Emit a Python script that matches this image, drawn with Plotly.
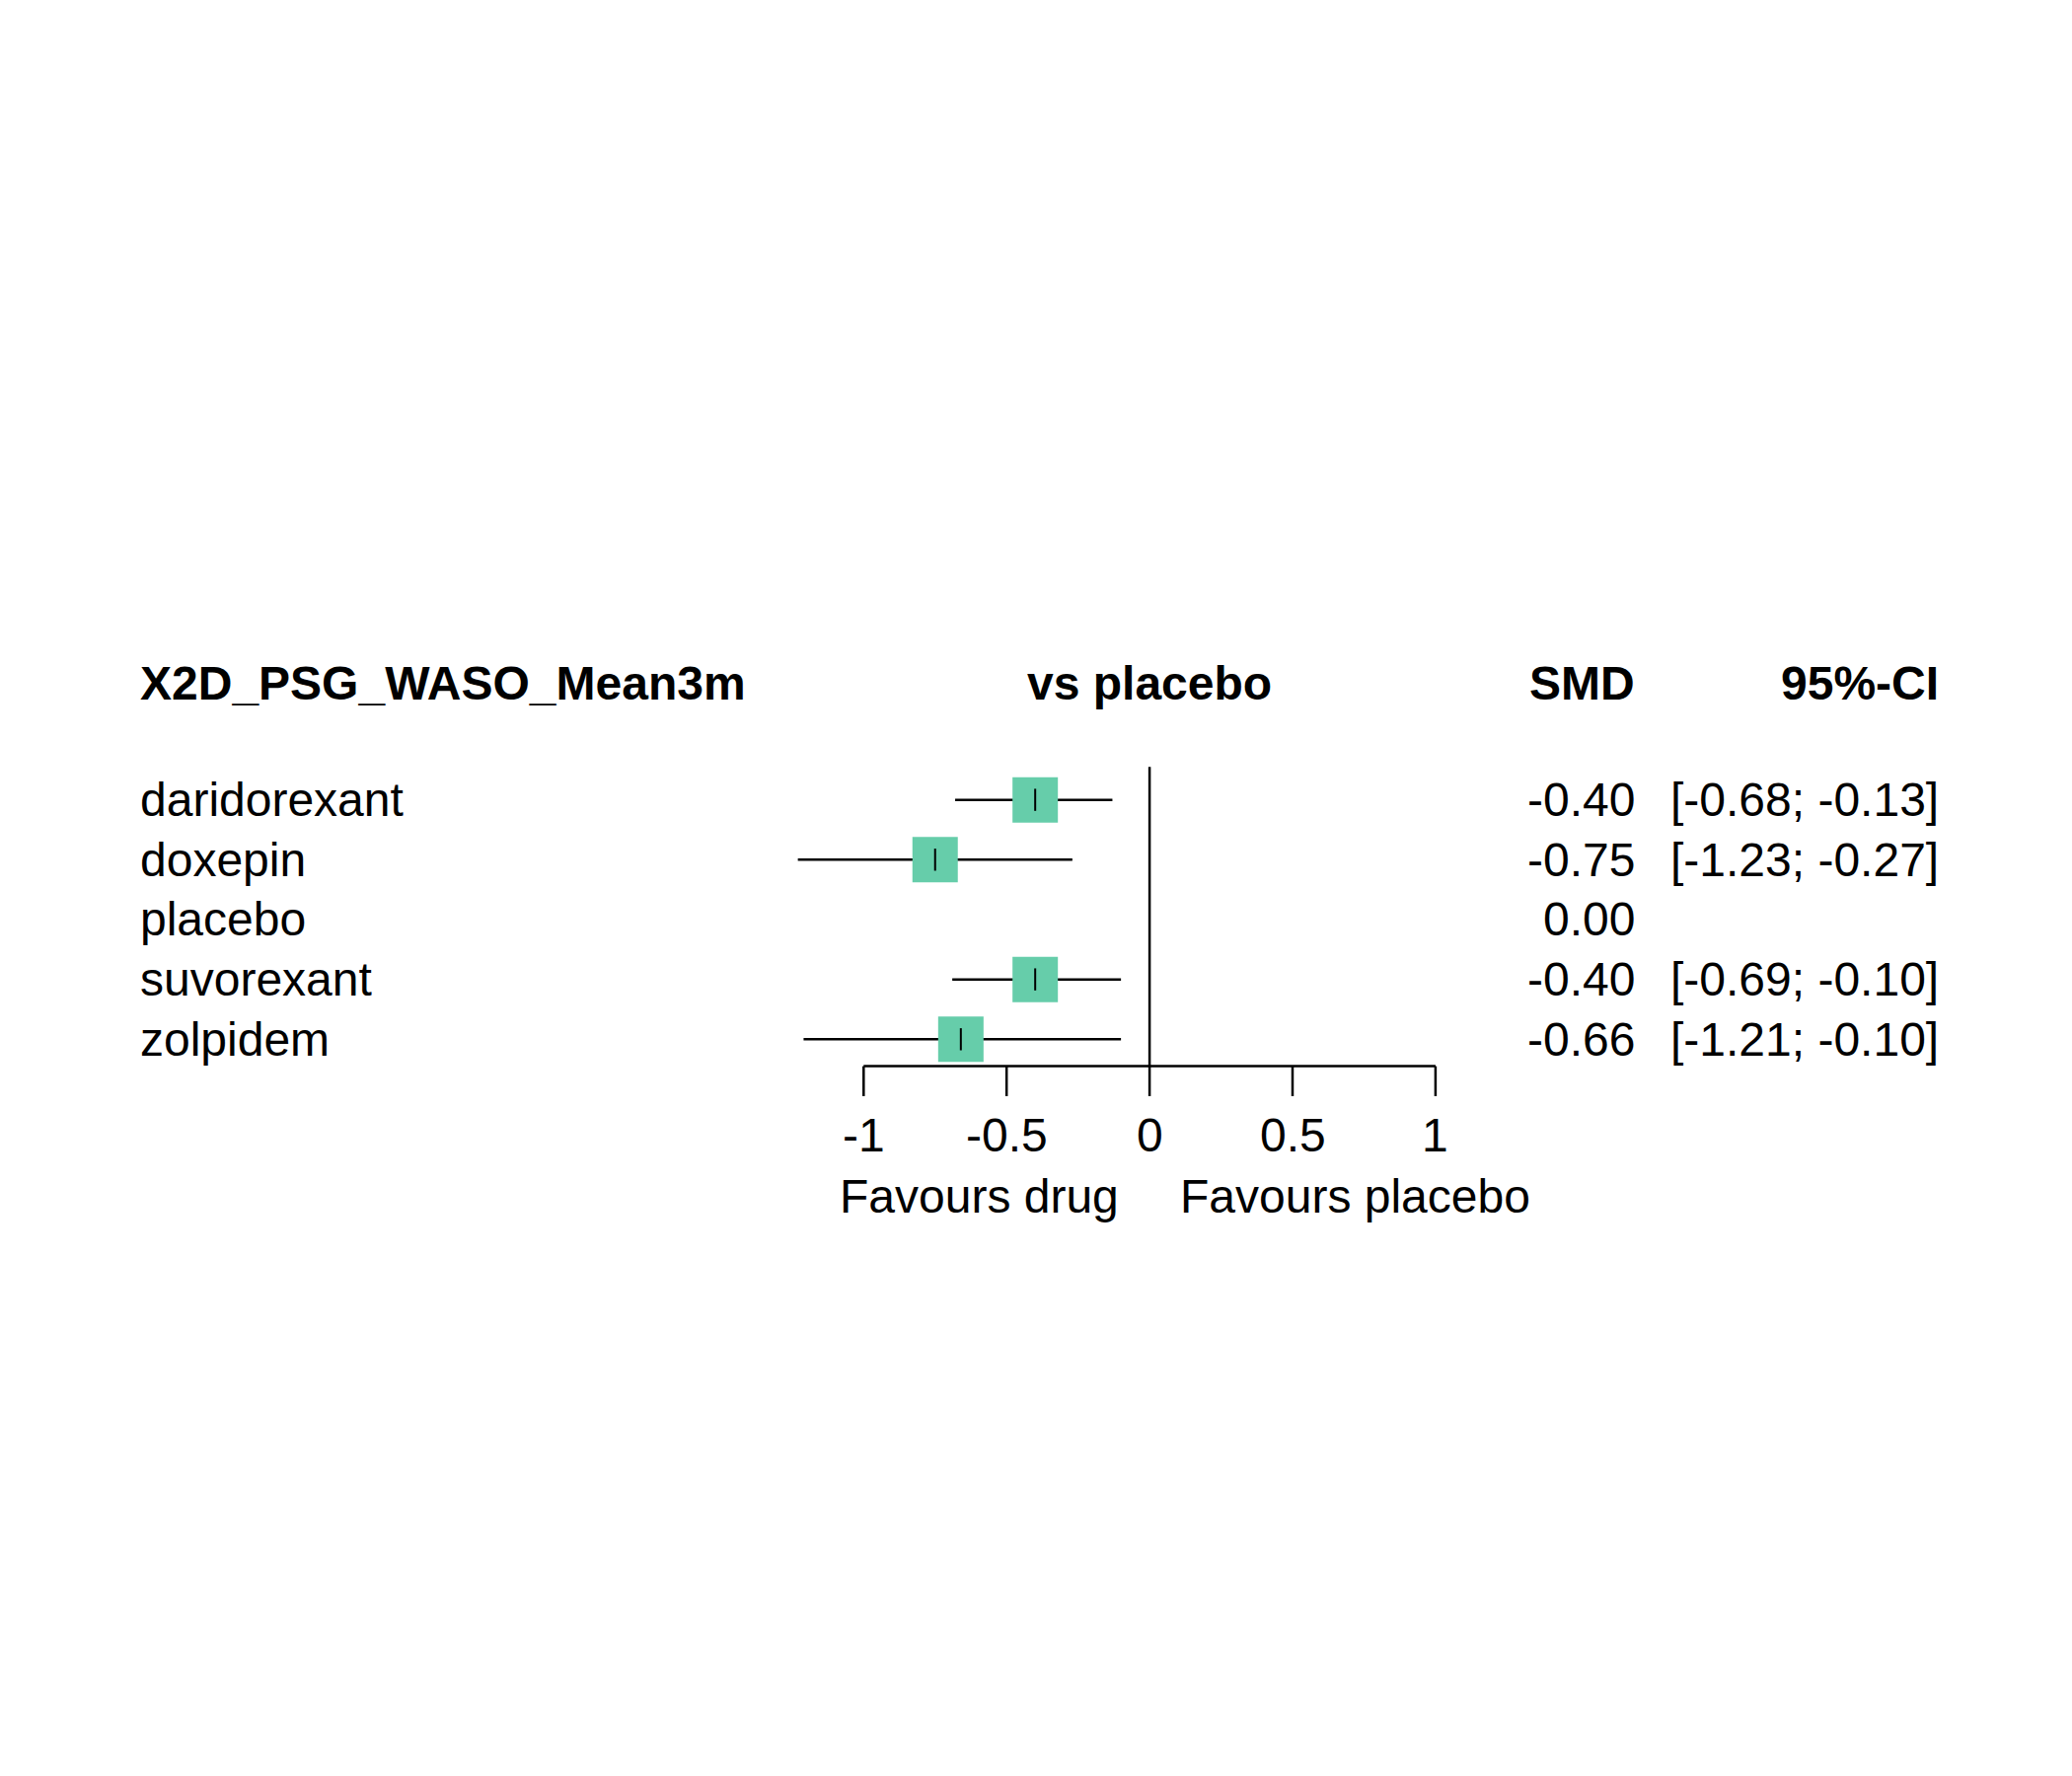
import plotly.graph_objects as go

treatments = ["daridorexant", "doxepin", "placebo", "suvorexant", "zolpidem"]
smd = [-0.40, -0.75, 0.00, -0.40, -0.66]
lower = [-0.68, -1.23, None, -0.69, -1.21]
upper = [-0.13, -0.27, None, -0.10, -0.10]
ticks = [-1, -0.5, 0, 0.5, 1]
tick_labels = ["-1", "-0.5", "0", "0.5", "1"]

FONT = "Liberation Sans, Arial, sans-serif"
FS = 48
rows = list(range(1, len(treatments) + 1))

fig = go.Figure()

# confidence intervals
for r, lo, hi in zip(rows, lower, upper):
    if lo is None:
        continue
    fig.add_trace(go.Scatter(x=[lo, hi], y=[r, r], mode="lines",
                             line=dict(color="black", width=2.5), hoverinfo="skip"))

# squares (placebo has none)
sq_x = [s for s, lo in zip(smd, lower) if lo is not None]
sq_y = [r for r, lo in zip(rows, lower) if lo is not None]
fig.add_trace(go.Scatter(x=sq_x, y=sq_y, mode="markers",
                         marker=dict(symbol="square", size=46, color="#66CDAA", line=dict(width=0))))
fig.add_trace(go.Scatter(x=sq_x, y=sq_y, mode="markers",
                         marker=dict(symbol="line-ns", size=16, line=dict(color="black", width=2))))

# zero line and bottom axis
fig.add_shape(type="line", x0=0, x1=0, y0=0.45, y1=5.45, xref="x", yref="y",
              line=dict(color="black", width=2.5))
fig.add_shape(type="line", x0=-1, x1=1, y0=5.45, y1=5.45, xref="x", yref="y",
              line=dict(color="black", width=2.5))
for t, lab in zip(ticks, tick_labels):
    fig.add_shape(type="line", x0=t, x1=t, y0=5.45, y1=5.95, xref="x", yref="y",
                  line=dict(color="black", width=2.5))
    fig.add_annotation(x=t, y=6.6, text=lab, xref="x", yref="y", showarrow=False,
                       font=dict(size=FS, family=FONT, color="black"))
fig.add_annotation(x=-0.1, y=7.63, text="Favours drug", xref="x", yref="y", showarrow=False,
                   xanchor="right", font=dict(size=FS, family=FONT, color="black"))
fig.add_annotation(x=0.1, y=7.63, text="Favours placebo", xref="x", yref="y", showarrow=False,
                   xanchor="left", font=dict(size=FS, family=FONT, color="black"))

# headers
hdr_y = -0.94
for xp, txt, anc in [(0.063, "X2D_PSG_WASO_Mean3m", "left"), (0.551, "vs placebo", "center"),
                     (0.786, "SMD", "right"), (0.933, "95%-CI", "right")]:
    fig.add_annotation(x=xp, y=hdr_y, xref="paper", yref="y", text="<b>%s</b>" % txt,
                       showarrow=False, xanchor=anc,
                       font=dict(size=FS, family=FONT, color="black"))

# row labels and values
for r, name, s, lo, hi in zip(rows, treatments, smd, lower, upper):
    fig.add_annotation(x=0.063, y=r, xref="paper", yref="y", text=name, showarrow=False,
                       xanchor="left", font=dict(size=FS, family=FONT, color="black"))
    fig.add_annotation(x=0.786, y=r, xref="paper", yref="y", text="%.2f" % s, showarrow=False,
                       xanchor="right", font=dict(size=FS, family=FONT, color="black"))
    if lo is not None:
        fig.add_annotation(x=0.933, y=r, xref="paper", yref="y",
                           text="[%.2f; %.2f]" % (lo, hi), showarrow=False,
                           xanchor="right", font=dict(size=FS, family=FONT, color="black"))

fig.update_layout(
    width=2100, height=1800, showlegend=False,
    margin=dict(l=0, r=0, t=0, b=0),
    paper_bgcolor="white", plot_bgcolor="white",
    xaxis=dict(domain=[0.344, 0.758], range=[-1.5, 1.5], visible=False),
    yaxis=dict(domain=[0, 1], range=[17.44, -12.23], visible=False),
)

fig.write_html("out.html")
